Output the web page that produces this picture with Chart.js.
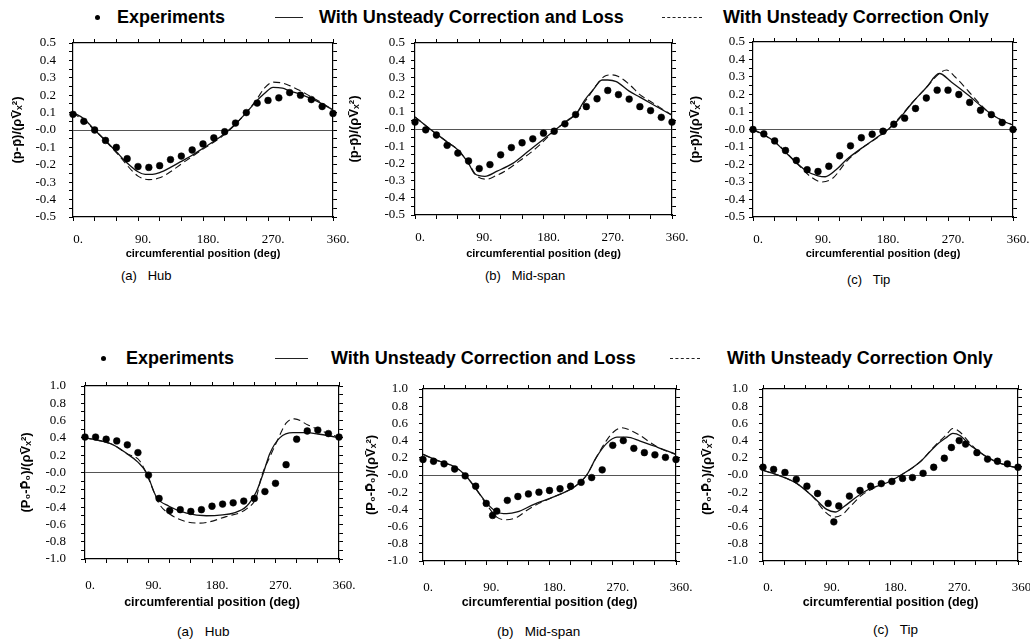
<!DOCTYPE html>
<html>
<head>
<meta charset="utf-8">
<script src="https://cdn.jsdelivr.net/npm/chart.js@4.4.1/dist/chart.umd.min.js"></script>
<style>
  body { margin: 0; background: #fff; width: 1030px; height: 642px; position: relative; overflow: hidden; font-family: "Liberation Sans", Arial, sans-serif; color: #000; }
  canvas { position: absolute; }
  .t { position: absolute; white-space: pre; line-height: 20px; }
  .leg { font-weight: bold; font-size: 18px; }
  .cap { font-size: 13px; }
  .cap2 { font-size: 13.5px; }
  .dot { position: absolute; width: 5px; height: 5px; border-radius: 50%; background: #000; }
  .ln { position: absolute; height: 0; border-top: 1px solid #222; }
  .dash { border-top: 1px dashed #222; }
</style>
</head>
<body>

<!-- legends -->
<div class="dot" style="left:95px; top:15px"></div>
<div class="t leg" style="left:117px; top:7px">Experiments</div>
<div class="ln" style="left:275px; top:17px; width:28px"></div>
<div class="t leg" style="left:319px; top:7px">With Unsteady Correction and Loss</div>
<div class="ln dash" style="left:662px; top:17px; width:40px"></div>
<div class="t leg" style="left:723px; top:7px">With Unsteady Correction Only</div>

<div class="dot" style="left:101px; top:356px"></div>
<div class="t leg" style="left:126px; top:348px">Experiments</div>
<div class="ln" style="left:275px; top:358px; width:33px"></div>
<div class="t leg" style="left:331px; top:348px">With Unsteady Correction and Loss</div>
<div class="ln dash" style="left:670px; top:358px; width:30px"></div>
<div class="t leg" style="left:727px; top:348px">With Unsteady Correction Only</div>

<!-- captions -->
<div class="t cap" style="left:121px; top:266px">(a)   Hub</div>
<div class="t cap" style="left:485px; top:266px">(b)   Mid-span</div>
<div class="t cap" style="left:847px; top:270px">(c)   Tip</div>
<div class="t cap2" style="left:177px; top:622px">(a)   Hub</div>
<div class="t cap2" style="left:497px; top:622px">(b)   Mid-span</div>
<div class="t cap2" style="left:873px; top:620px">(c)   Tip</div>

<script>
// tick labels
const xTickValues = [0, 90, 180, 270, 360];
const xTickLabels = ["0.", "90.", "180.", "270.", "360."];
const pTickValues = [0.5, 0.4, 0.3, 0.2, 0.1, 0, -0.1, -0.2, -0.3, -0.4, -0.5];
const pTickLabels = ["0.5", "0.4", "0.3", "0.2", "0.1", "-0.0", "-0.1", "-0.2", "-0.3", "-0.4", "-0.5"];
const p0TickValues = [1.0, 0.8, 0.6, 0.4, 0.2, 0, -0.2, -0.4, -0.6, -0.8, -1.0];
const p0TickLabels = ["1.0", "0.8", "0.6", "0.4", "0.2", "-0.0", "-0.2", "-0.4", "-0.6", "-0.8", "-1.0"];

// experiment positions (deg)
const angles15 = [0, 15, 30, 45, 60, 75, 90, 105, 120, 135, 150, 165, 180, 195, 210, 225, 240, 255, 270, 285, 300, 315, 330, 345, 360];

// static pressure, hub
const pHubExp = [0.09, 0.05, 0.0, -0.06, -0.10, -0.165, -0.21, -0.215, -0.205, -0.17, -0.15, -0.115, -0.08, -0.045, -0.01, 0.04, 0.10, 0.155, 0.17, 0.185, 0.215, 0.20, 0.175, 0.135, 0.095];
const pHubLossX = [0, 15, 30, 45, 60, 75, 90, 100, 110, 120, 135, 150, 165, 180, 195, 210, 225, 240, 255, 265, 277, 290, 300, 315, 330, 345, 360];
const pHubLoss = [0.10, 0.065, 0.0, -0.06, -0.125, -0.19, -0.24, -0.255, -0.255, -0.245, -0.215, -0.18, -0.145, -0.105, -0.065, -0.02, 0.035, 0.10, 0.17, 0.21, 0.245, 0.24, 0.225, 0.205, 0.18, 0.15, 0.115];
const pHubOnlyX = [0, 30, 60, 90, 105, 120, 135, 150, 180, 210, 240, 255, 265, 277, 290, 300, 315, 330, 345, 360];
const pHubOnly = [0.10, 0.0, -0.13, -0.265, -0.285, -0.275, -0.24, -0.195, -0.11, -0.025, 0.10, 0.18, 0.24, 0.275, 0.27, 0.255, 0.225, 0.19, 0.155, 0.115];

// static pressure, mid-span
const pMidExp = [0.04, -0.005, -0.035, -0.095, -0.14, -0.186, -0.23, -0.207, -0.15, -0.108, -0.08, -0.057, -0.024, -0.013, 0.03, 0.084, 0.13, 0.176, 0.224, 0.20, 0.174, 0.13, 0.107, 0.068, 0.04];
const pMidLossX = [0, 21, 45, 61, 75, 84, 98, 115, 137, 160, 180, 198, 215, 226, 238, 250, 262, 270, 282, 300, 315, 330, 345, 360];
const pMidLoss = [0.07, 0.0, -0.075, -0.125, -0.2, -0.262, -0.275, -0.245, -0.20, -0.125, -0.06, 0.0, 0.055, 0.09, 0.17, 0.23, 0.285, 0.285, 0.275, 0.22, 0.185, 0.15, 0.115, 0.08];
const pMidOnlyX = [0, 21, 45, 61, 75, 86, 100, 114, 128, 145, 170, 198, 226, 240, 255, 265, 275, 285, 300, 315, 330, 345, 360];
const pMidOnly = [0.07, 0.0, -0.075, -0.125, -0.2, -0.27, -0.292, -0.27, -0.24, -0.19, -0.11, 0.0, 0.09, 0.17, 0.26, 0.305, 0.315, 0.305, 0.26, 0.2, 0.16, 0.12, 0.08];

// static pressure, tip
const pTipExp = [0.0, -0.025, -0.065, -0.12, -0.177, -0.23, -0.24, -0.21, -0.15, -0.093, -0.047, -0.027, -0.01, 0.03, 0.065, 0.12, 0.18, 0.225, 0.225, 0.20, 0.155, 0.11, 0.085, 0.04, 0.0];
const pTipLossX = [0, 15, 30, 45, 60, 75, 90, 100, 115, 130, 150, 170, 187, 200, 222, 240, 258, 275, 297, 326, 345, 360];
const pTipLoss = [0.0, -0.03, -0.07, -0.13, -0.19, -0.24, -0.265, -0.27, -0.23, -0.17, -0.108, -0.05, 0.0, 0.05, 0.16, 0.24, 0.32, 0.27, 0.2, 0.1, 0.05, 0.025];
const pTipOnlyX = [0, 30, 60, 80, 95, 110, 130, 150, 187, 222, 240, 258, 268, 280, 298, 326, 360];
const pTipOnly = [0.0, -0.07, -0.19, -0.27, -0.30, -0.28, -0.18, -0.11, 0.0, 0.16, 0.24, 0.32, 0.34, 0.30, 0.22, 0.1, 0.025];

// total pressure, hub
const p0HubExp = [0.41, 0.41, 0.385, 0.365, 0.32, 0.23, -0.03, -0.30, -0.44, -0.43, -0.45, -0.43, -0.39, -0.365, -0.35, -0.33, -0.30, -0.22, -0.125, 0.09, 0.385, 0.48, 0.49, 0.45, 0.41];
const p0HubLossX = [0, 20, 40, 59, 75, 87, 101, 119, 144, 172, 195, 210, 229, 243, 253, 262, 276, 295, 315, 330, 345, 360];
const p0HubLoss = [0.40, 0.37, 0.32, 0.22, 0.12, 0.0, -0.28, -0.39, -0.47, -0.50, -0.49, -0.47, -0.39, -0.22, 0.0, 0.22, 0.40, 0.46, 0.46, 0.445, 0.425, 0.40];
const p0HubOnlyX = [0, 20, 40, 59, 78, 90, 105, 120, 144, 163, 200, 229, 243, 250, 262, 271, 285, 297, 316, 333, 352, 360];
const p0HubOnly = [0.40, 0.37, 0.32, 0.22, 0.13, -0.07, -0.36, -0.48, -0.57, -0.585, -0.51, -0.42, -0.28, -0.05, 0.18, 0.34, 0.57, 0.62, 0.55, 0.49, 0.43, 0.41];

// total pressure, mid-span
const p0MidExpX = [0, 15, 30, 45, 60, 75, 90, 99, 105, 120, 135, 150, 165, 180, 195, 210, 225, 240, 255, 270, 285, 300, 315, 330, 345, 360];
const p0MidExp = [0.18, 0.16, 0.13, 0.07, -0.01, -0.13, -0.33, -0.47, -0.42, -0.295, -0.25, -0.22, -0.20, -0.18, -0.16, -0.13, -0.085, -0.03, 0.06, 0.345, 0.40, 0.31, 0.26, 0.235, 0.205, 0.18];
const p0MidLossX = [0, 20, 46, 60, 77, 91, 105, 119, 134, 157, 186, 214, 224, 233, 247, 261, 276, 290, 309, 333, 360];
const p0MidLoss = [0.24, 0.17, 0.09, 0.0, -0.18, -0.33, -0.43, -0.45, -0.43, -0.345, -0.255, -0.147, -0.08, 0.0, 0.21, 0.365, 0.44, 0.44, 0.395, 0.325, 0.24];
const p0MidOnlyX = [0, 20, 46, 60, 77, 91, 105, 119, 134, 148, 165, 186, 214, 224, 233, 247, 261, 271, 283, 295, 309, 323, 340, 360];
const p0MidOnly = [0.24, 0.17, 0.09, 0.0, -0.18, -0.35, -0.49, -0.52, -0.49, -0.41, -0.33, -0.255, -0.147, -0.08, 0.0, 0.21, 0.40, 0.50, 0.55, 0.52, 0.46, 0.38, 0.30, 0.24];

// total pressure, tip
const p0TipExpX = [0, 15, 31, 47, 62, 77, 92, 100, 107, 122, 137, 152, 167, 182, 197, 211, 226, 241, 256, 266, 277, 286, 302, 317, 331, 345, 360];
const p0TipExp = [0.09, 0.065, 0.03, -0.05, -0.13, -0.215, -0.33, -0.545, -0.36, -0.245, -0.18, -0.13, -0.10, -0.075, -0.04, -0.03, 0.02, 0.09, 0.195, 0.32, 0.40, 0.36, 0.26, 0.185, 0.16, 0.13, 0.09];
const p0TipLossX = [0, 24, 48, 71, 90, 102, 114, 132, 151, 175, 195, 222, 245, 258, 268, 278, 292, 302, 317, 335, 360];
const p0TipLoss = [0.055, -0.01, -0.1, -0.255, -0.4, -0.43, -0.37, -0.255, -0.16, -0.09, 0.0, 0.155, 0.35, 0.43, 0.485, 0.46, 0.35, 0.29, 0.205, 0.136, 0.08];
const p0TipOnlyX = [0, 24, 48, 71, 88, 100, 112, 125, 140, 160, 195, 222, 245, 258, 268, 278, 290, 302, 317, 335, 360];
const p0TipOnly = [0.055, -0.01, -0.1, -0.26, -0.43, -0.49, -0.46, -0.35, -0.23, -0.14, 0.0, 0.155, 0.36, 0.46, 0.54, 0.50, 0.39, 0.29, 0.205, 0.136, 0.08];

const pTitle = "(p-p\u0304)/(\u03C1V\u0304\u2093\u00B2)";
const p0Title = "(P\u2080-P\u0304\u2080)/(\u03C1V\u0304\u2093\u00B2)";

function toPoints(xs, ys) {
    return xs.map((x, i) => ({ x: x, y: ys[i] }));
}

function labelFor(values, labels) {
    return (v) => {
        const i = values.findIndex((t) => Math.abs(t - v) < 1e-6);
        return i < 0 ? "" : labels[i];
    };
}

// frame sizes are forced so every plot area lands where the figure has it
function fixSize(size) {
    return (s) => {
        if (s.isHorizontal()) s.height = size;
        else s.width = size;
        s.paddingLeft = s.paddingRight = s.paddingTop = s.paddingBottom = 0;
    };
}

function drawPanel(p) {
    const tm = 6, rm = 6, padTop = 4, padRight = 22;
    const canvas = document.createElement("canvas");
    canvas.width = p.lm + (p.R - p.L) + rm + padRight;
    canvas.height = padTop + tm + (p.B - p.T) + p.bm;
    canvas.style.left = p.L - p.lm + "px";
    canvas.style.top = p.T - tm - padTop + "px";
    document.body.appendChild(canvas);

    const tickGrid = { drawOnChartArea: false, tickLength: 4, color: "#000" };
    const border = { color: "#000", width: 1.2 };
    const tickFont = { family: "Liberation Serif", size: 13 };

    new Chart(canvas, {
        type: "scatter",
        data: {
            datasets: [
                {
                    data: toPoints(p.expX, p.exp),
                    showLine: false,
                    pointRadius: 3.4,
                    pointBackgroundColor: "#000",
                    pointBorderColor: "#000",
                    pointBorderWidth: 0.5,
                    clip: false,
                },
                {
                    data: toPoints(p.lossX, p.loss),
                    showLine: true,
                    pointRadius: 0,
                    borderColor: "#111",
                    borderWidth: 1.3,
                    cubicInterpolationMode: "monotone",
                },
                {
                    data: toPoints(p.onlyX, p.only),
                    showLine: true,
                    pointRadius: 0,
                    borderColor: "#111",
                    borderWidth: 1.1,
                    borderDash: [7, 4],
                    cubicInterpolationMode: "monotone",
                },
            ],
        },
        options: {
            responsive: false,
            animation: false,
            layout: { padding: { top: padTop, right: padRight, left: 0, bottom: 0 } },
            plugins: { legend: { display: false }, tooltip: { enabled: false } },
            scales: {
                x: {
                    type: "linear",
                    position: "bottom",
                    min: 0,
                    max: 360,
                    ticks: {
                        stepSize: 30,
                        autoSkip: false,
                        maxRotation: 0,
                        padding: p.xPad,
                        labelOffset: 5,
                        color: "#000",
                        font: tickFont,
                        callback: labelFor(xTickValues, xTickLabels),
                    },
                    grid: tickGrid,
                    border: border,
                    title: {
                        display: true,
                        text: "circumferential position (deg)",
                        color: "#000",
                        padding: 0,
                        font: { family: "Liberation Sans", size: p.xTitleSize, weight: "bold" },
                    },
                    afterFit: fixSize(p.bm),
                },
                x2: {
                    type: "linear",
                    position: "top",
                    min: 0,
                    max: 360,
                    ticks: { stepSize: 30, display: false },
                    grid: tickGrid,
                    border: border,
                    afterFit: fixSize(tm),
                },
                y: {
                    type: "linear",
                    position: "left",
                    min: p.yMin,
                    max: p.yMax,
                    ticks: {
                        stepSize: p.yStep,
                        maxTicksLimit: 100,
                        autoSkip: false,
                        padding: p.yPad,
                        color: "#000",
                        font: tickFont,
                        callback: labelFor(p.yVals, p.yLabels),
                    },
                    grid: {
                        drawOnChartArea: true,
                        tickLength: 4,
                        tickColor: "#000",
                        color: (c) => (c.tick && Math.abs(c.tick.value) < 1e-9 ? "#555" : "rgba(0,0,0,0)"),
                    },
                    border: border,
                    title: {
                        display: true,
                        text: p.yTitle,
                        color: "#000",
                        padding: 0,
                        font: { family: "Liberation Sans", size: 13, weight: "bold" },
                    },
                    afterFit: fixSize(p.lm),
                },
                y2: {
                    type: "linear",
                    position: "right",
                    min: p.yMin,
                    max: p.yMax,
                    ticks: { stepSize: p.yStep, maxTicksLimit: 100, display: false },
                    grid: tickGrid,
                    border: border,
                    afterFit: fixSize(rm),
                },
            },
        },
    });
}

const pAxis = { yMin: -0.5, yMax: 0.5, yStep: 0.05, yVals: pTickValues, yLabels: pTickLabels, yTitle: pTitle, xPad: 11, xTitleSize: 11 };
const p0Axis = { yMin: -1, yMax: 1, yStep: 0.1, yVals: p0TickValues, yLabels: p0TickLabels, yTitle: p0Title, xPad: 15, xTitleSize: 12.5 };

drawPanel({ ...pAxis, L: 73, T: 43, R: 333, B: 217, lm: 63, bm: 44, yPad: 13,
    expX: angles15, exp: pHubExp, lossX: pHubLossX, loss: pHubLoss, onlyX: pHubOnlyX, only: pHubOnly });
drawPanel({ ...pAxis, L: 415, T: 43, R: 672, B: 215, lm: 68, bm: 46, yPad: 6,
    expX: angles15, exp: pMidExp, lossX: pMidLossX, loss: pMidLoss, onlyX: pMidOnlyX, only: pMidOnly });
drawPanel({ ...pAxis, L: 753, T: 42, R: 1013, B: 217, lm: 65, bm: 44, yPad: 4,
    expX: angles15, exp: pTipExp, lossX: pTipLossX, loss: pTipLoss, onlyX: pTipOnlyX, only: pTipOnly });
drawPanel({ ...p0Axis, L: 85, T: 386, R: 339, B: 559, lm: 66, bm: 51, yPad: 15,
    expX: angles15, exp: p0HubExp, lossX: p0HubLossX, loss: p0HubLoss, onlyX: p0HubOnlyX, only: p0HubOnly });
drawPanel({ ...p0Axis, L: 423, T: 389, R: 676, B: 561, lm: 59, bm: 49, yPad: 11,
    expX: p0MidExpX, exp: p0MidExp, lossX: p0MidLossX, loss: p0MidLoss, onlyX: p0MidOnlyX, only: p0MidOnly });
drawPanel({ ...p0Axis, L: 763, T: 389, R: 1018, B: 561, lm: 63, bm: 49, yPad: 11,
    expX: p0TipExpX, exp: p0TipExp, lossX: p0TipLossX, loss: p0TipLoss, onlyX: p0TipOnlyX, only: p0TipOnly });
</script>
</body>
</html>
